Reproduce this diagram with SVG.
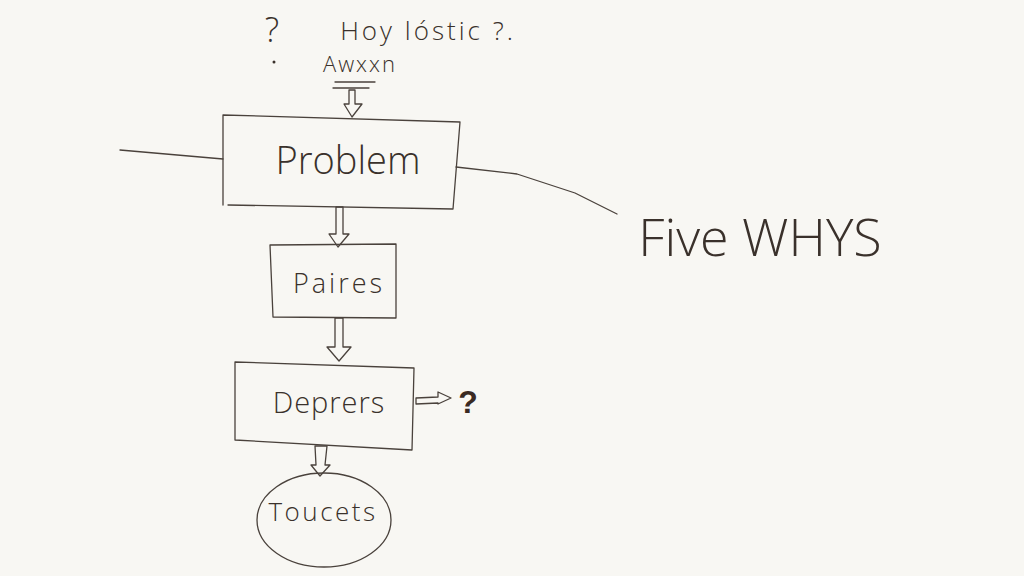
<svg xmlns="http://www.w3.org/2000/svg" width="1024" height="576" viewBox="0 0 1024 576">
<style>
.bg{fill:#f8f7f3}
.ln{fill:none;stroke:#4a423c;stroke-width:1.3;stroke-linecap:round;stroke-linejoin:round}
.ar{fill:#f8f7f3;stroke:#4a423c;stroke-width:1.3;stroke-linejoin:round}
.t{font-family:"Open Sans","Liberation Sans",sans-serif;font-weight:300;fill:#3a312b;text-anchor:middle}
.q{font-family:"Liberation Sans",sans-serif;font-weight:700;fill:#3a2a22;text-anchor:middle}
</style>
<rect class="bg" width="1024" height="576"/>
<g id="connectors">
<path class="ln" d="M120 150 L223 159"/>
<path class="ln" d="M456 167 L517 174 L575 193 L617 214"/>
<path class="ln" d="M335 82 L375 82 M333 88 L369 88"/>
<path class="ar" d="M349 90 L355 90 L355 104 L362 104 L352 117 L344 104 L349 104 Z"/>
<path class="ar" d="M336 207 L343 207 L343 234 L349 234 L338 247 L329 234 L336 234 Z"/>
<path class="ar" d="M335 318 L343 318 L343 347 L351 347 L339 361 L327 347 L335 347 Z"/>
<path class="ar" d="M315 446 L327 446 L325 465 L330 465 L320 476 L311 465 L316 465 Z"/>
<path class="ar" d="M416 398 L438 397 L438 392 L451 398 L438 404 L438 403 L416 404 Z"/>
</g>
<g id="top">
<text class="t" x="272" y="42" font-size="34">?</text>
<circle cx="274" cy="62" r="1.5" fill="#3a312b"/>
<text class="t" x="428" y="40" font-size="26" letter-spacing="3">Hoy lóstic ?.</text>
<text class="t" x="360" y="72" font-size="22" letter-spacing="2">Awxxn</text>
</g>
<g id="problem">
<path class="ln" d="M223 115 L460 122 L453 209 L228 205 M223 115 L223 205"/>
<text class="t" x="348" y="174" font-size="38">Problem</text>
</g>
<g id="paires">
<path class="ln" d="M270 245 L396 244 L396 318 L273 317 Z"/>
<text class="t" x="339" y="293" font-size="27" letter-spacing="3">Paires</text>
</g>
<g id="deprers">
<path class="ln" d="M235 362 L414 368 L412 450 L235 440 Z"/>
<text class="t" x="329" y="413" font-size="29" letter-spacing="1">Deprers</text>
<text class="q" x="468" y="413" font-size="32">?</text>
</g>
<g id="toucets">
<ellipse class="ln" cx="324" cy="520" rx="67" ry="47"/>
<text class="t" x="323" y="521" font-size="26" letter-spacing="2.5">Toucets</text>
</g>
<g id="fivewhys">
<text class="t" x="760" y="256" font-size="52">Five WHYS</text>
</g>
</svg>
